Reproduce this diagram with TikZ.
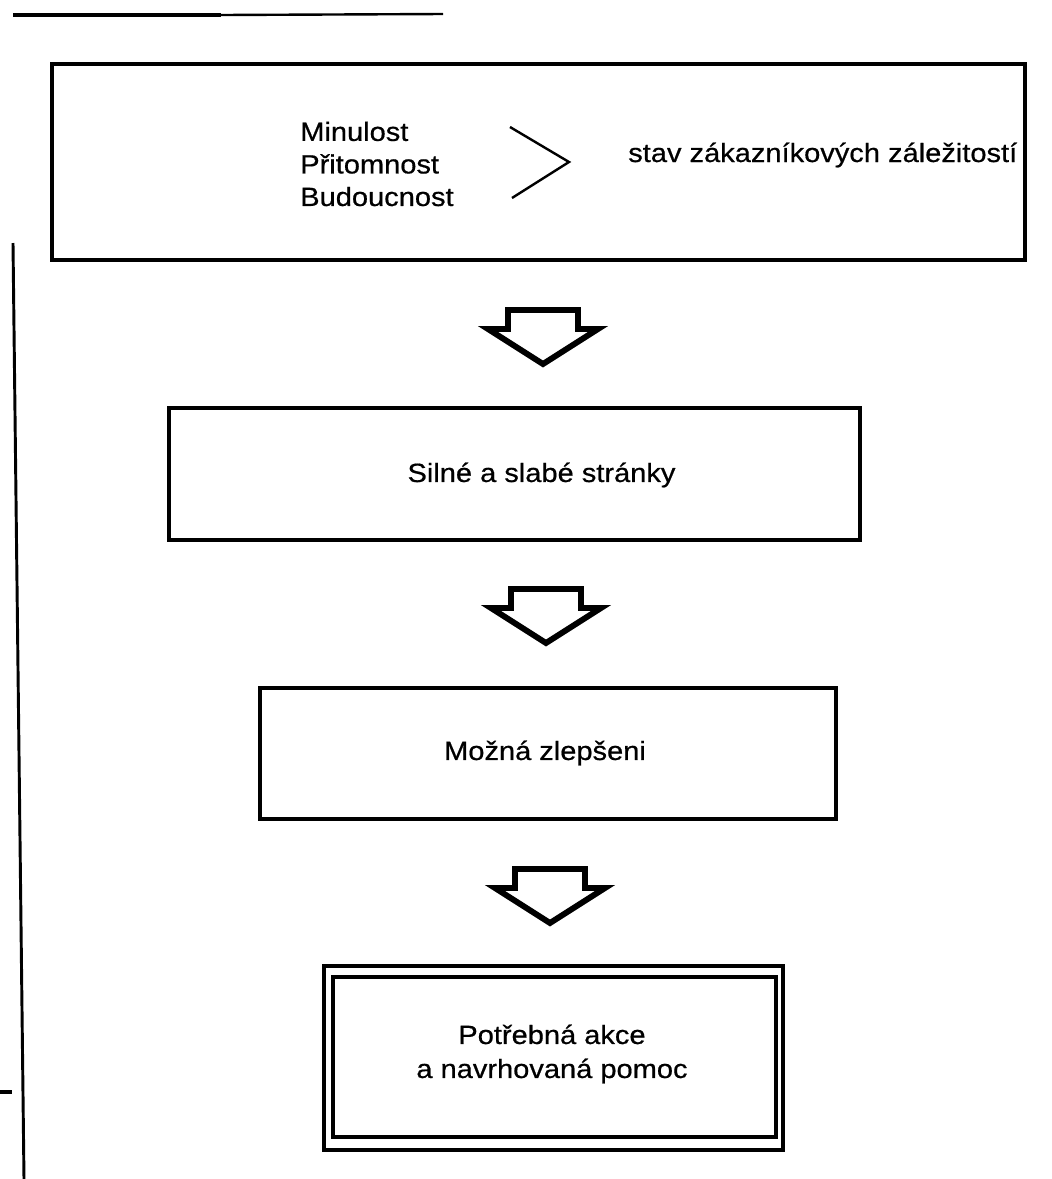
\documentclass[tikz,border=0pt]{standalone}
\usepackage{fontspec}
\setmainfont[FakeStretch=1.1,FakeBold=0.6]{Liberation Sans}
\begin{document}
\begin{tikzpicture}[x=0.75pt,y=-0.75pt,
  box/.style={draw, line width=3pt, inner sep=0pt},
  lbl/.style={inner sep=0pt, font=\fontsize{19.8pt}{24.4pt}\selectfont},
  arrowline/.style={line width=4.4pt, line join=miter},
  fatarrow/.pic={\draw[arrowline] (-35,0) -- (35,0) -- (35,19) -- (55,19) -- (0,54) -- (-55,19) -- (-35,19) -- cycle;}]
\useasboundingbox (0,0) rectangle (1052,1179);
% margin lines of the page
\draw[line width=3.2pt] (13,15) -- (221,15);
\draw[line width=1.8pt] (221,15) -- (443,14);
\draw[line width=2.2pt] (13,243) -- (24,1179);
\draw[line width=3pt] (0,1092) -- (12,1092);
% box 1
\node[box, minimum width=729.75pt, minimum height=147pt] (b1) at (538.5,162) {};
\node[lbl, anchor=west, align=left] (times) at (300,164) {Minulost\\Přitomnost\\Budoucnost};
\coordinate (chA) at (510,127);
\coordinate (chB) at (569,162);
\coordinate (chC) at (512,198);
\draw[line width=1.8pt] (chA) -- (chB) -- (chC);
\node[lbl, anchor=base west] (state) at (628,162) {stav zákazníkových záležitostí};
% box 2
\node[box, minimum width=518.25pt, minimum height=99pt] (b2) at (514.5,474) {};
\node[lbl] (strengths) at (541.5,475) {Silné a slabé stránky};
% box 3
\node[box, minimum width=432pt, minimum height=98.25pt] (b3) at (548,753.5) {};
\node[lbl] (improve) at (545,753) {Možná zlepšeni};
% box 4 (double frame)
\node[box, line width=2.6pt, minimum width=344.25pt, minimum height=138pt] (b4o) at (553.5,1058) {};
\node[box, line width=2.6pt, minimum width=332.25pt, minimum height=120pt] (b4) at (554.5,1057) {};
\node[lbl, align=center, font=\fontsize{19.8pt}{25.5pt}\selectfont] (action) at (552,1054) {Potřebná akce\\a navrhovaná pomoc};
% block arrows
\pic at (543,310) {fatarrow};
\pic at (546,589) {fatarrow};
\pic at (550,869) {fatarrow};
\end{tikzpicture}
\end{document}
